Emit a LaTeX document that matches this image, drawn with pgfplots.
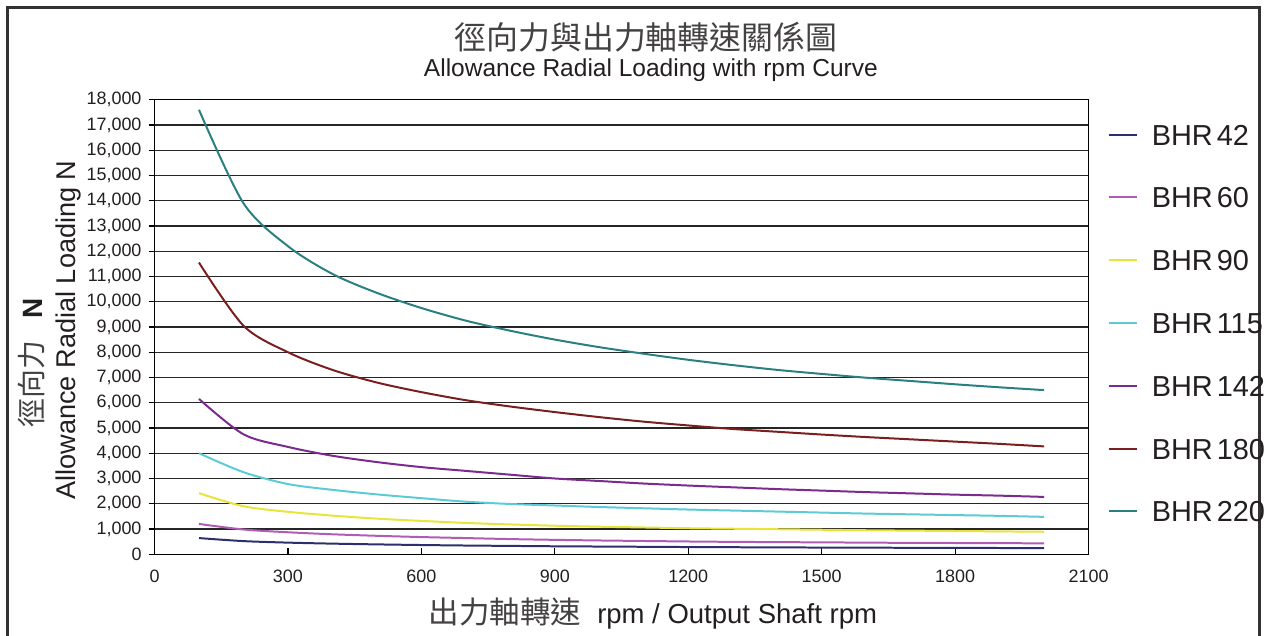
\documentclass[border=0pt]{standalone}
\usepackage{fontspec}
\setmainfont{Liberation Sans}
\newfontfamily\cjk{Noto Sans CJK TC}
\usepackage{pgfplots}
\pgfplotsset{compat=1.18}

\definecolor{c42}{HTML}{2B2F6B}
\definecolor{c60}{HTML}{B05CB6}
\definecolor{c90}{HTML}{E8E53A}
\definecolor{c115}{HTML}{5CCBD6}
\definecolor{c142}{HTML}{7B2A8E}
\definecolor{c180}{HTML}{7A1F1F}
\definecolor{c220}{HTML}{2A8080}
\definecolor{ink}{HTML}{231F20}

\begin{document}
\begin{tikzpicture}
\begin{scope}[x=0.5pt,y=0.5pt]
  \useasboundingbox (0,0) rectangle (1271,638);
  \draw[line width=1.5pt, black!80] (8,-20) rectangle (1263,630);
  \node[font=\cjk\fontsize{16}{17}\selectfont, text=ink!85] at (648,601) {徑向力與出力軸轉速關係圖};
  \node[font=\fontsize{12.3}{13}\selectfont, text=ink] at (653,568) {Allowance Radial Loading with rpm Curve};
  \node[rotate=90, text=ink, font=\fontsize{14}{15}\selectfont] at (32,274) {{\cjk\color{ink!85}\fontsize{14.5}{15}\selectfont 徑向力}\hspace{11pt}\textbf{N}};
  \node[rotate=90, text=ink, font=\fontsize{13.6}{14}\selectfont] at (69,307) {Allowance Radial Loading N};
  \node[text=ink, font=\fontsize{13.8}{14}\selectfont] at (655,23) {{\cjk\color{ink!85}\fontsize{15.3}{16}\selectfont 出力軸轉速}\hspace{8pt}rpm / Output Shaft rpm};
\end{scope}

\begin{axis}[
    at={(77.5pt,41pt)}, anchor=south west,
    scale only axis, width=468.5pt, height=228pt,
    xmin=0, xmax=2100, ymin=0, ymax=18000,
    xtick={0,300,...,2100}, ytick={0,1000,...,18000},
    xtick pos=bottom, ytick pos=left,
    major tick length=3pt,
    y tick style={xshift=-3pt, black, line width=0.6pt},
    x tick style={black, line width=0.6pt},
    ymajorgrids, grid style={black!85, line width=0.6pt},
    axis line style={black, line width=0.6pt},
    scaled y ticks=false,
    /pgf/number format/assume math mode=true,
    /pgf/number format/1000 sep={,},
    xticklabel style={font=\fontsize{9}{10}\selectfont, text=ink, yshift=-4.5pt, /pgf/number format/1000 sep={}},
    yticklabel style={font=\fontsize{9}{10}\selectfont, text=ink, xshift=-3pt},
    legend style={at={(axis description cs:1.0139,0.956)}, anchor=north west,
      draw=none, fill=none, font=\fontsize{14.5}{15}\selectfont, text=ink,
      row sep=21pt, column sep=7pt,
      nodes={inner sep=0pt, text height=10.5pt, text depth=0pt}},
    legend cell align=left,
    legend image code/.code={\draw[#1] (0pt,0pt) -- (14pt,0pt);},
    every axis plot/.append style={line width=1pt, smooth, no markers},
]
\addplot[c42] coordinates {(100,640) (200,520) (300,460) (400,420) (500,390) (600,365) (700,345) (800,330) (900,315) (1000,305) (1100,295) (1200,285) (1300,278) (1400,271) (1500,265) (1600,260) (1700,255) (1800,250) (1900,247) (2000,243)};
\addlegendentry{BHR\hspace{2pt}42}
\addplot[c60] coordinates {(100,1200) (200,980) (300,870) (400,790) (500,730) (600,680) (700,640) (800,600) (900,570) (1000,545) (1100,525) (1200,505) (1300,490) (1400,480) (1500,470) (1600,460) (1700,450) (1800,445) (1900,440) (2000,430)};
\addlegendentry{BHR\hspace{2pt}60}
\addplot[c90] coordinates {(100,2420) (200,1900) (300,1680) (400,1530) (500,1410) (600,1320) (700,1240) (800,1180) (900,1130) (1000,1090) (1100,1060) (1200,1030) (1300,1010) (1400,990) (1500,970) (1600,950) (1700,935) (1800,920) (1900,905) (2000,890)};
\addlegendentry{BHR\hspace{2pt}90}
\addplot[c115] coordinates {(100,4000) (200,3250) (300,2780) (400,2550) (500,2370) (600,2220) (700,2080) (800,1990) (900,1930) (1000,1870) (1100,1820) (1200,1770) (1300,1730) (1400,1690) (1500,1650) (1600,1610) (1700,1580) (1800,1550) (1900,1520) (2000,1480)};
\addlegendentry{BHR\hspace{2pt}115}
\addplot[c142] coordinates {(100,6150) (200,4750) (300,4250) (400,3900) (500,3650) (600,3450) (700,3300) (800,3150) (900,3000) (1000,2900) (1100,2800) (1200,2720) (1300,2650) (1400,2580) (1500,2520) (1600,2460) (1700,2410) (1800,2360) (1900,2320) (2000,2270)};
\addlegendentry{BHR\hspace{2pt}142}
\addplot[c180] coordinates {(100,11550) (200,9050) (300,8000) (400,7300) (500,6800) (600,6420) (700,6100) (800,5850) (900,5630) (1000,5430) (1100,5250) (1200,5100) (1300,4960) (1400,4850) (1500,4740) (1600,4640) (1700,4550) (1800,4460) (1900,4370) (2000,4270)};
\addlegendentry{BHR\hspace{2pt}180}
\addplot[c220] coordinates {(100,17600) (200,13900) (300,12200) (400,11100) (500,10350) (600,9750) (700,9250) (800,8850) (900,8500) (1000,8200) (1100,7940) (1200,7700) (1300,7490) (1400,7300) (1500,7140) (1600,6990) (1700,6860) (1800,6730) (1900,6610) (2000,6500)};
\addlegendentry{BHR\hspace{2pt}220}
\end{axis}
\end{tikzpicture}
\end{document}
